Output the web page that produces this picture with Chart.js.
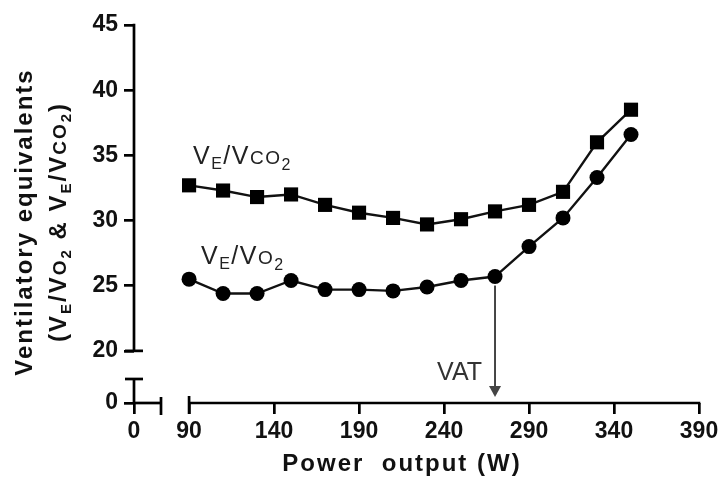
<!DOCTYPE html>
<html>
<head>
<meta charset="UTF-8">
<title>Ventilatory equivalents vs power output</title>
<script src="https://cdn.jsdelivr.net/npm/chart.js@4.4.1/dist/chart.umd.min.js"></script>
<style>
body { margin: 0; background: #fff; }
</style>
</head>
<body>
<canvas id="myChart" width="724" height="478"></canvas>
<script>
// power steps (W)
var power = [90, 110, 130, 150, 170, 190, 210, 230, 250, 270, 290, 310, 330, 350];
// VE/VCO2 (squares)
var veVco2 = [32.7, 32.3, 31.8, 32.0, 31.2, 30.6, 30.2, 29.7, 30.1, 30.7, 31.2, 32.2, 36.0, 38.5];
// VE/VO2 (circles)
var veVo2 = [25.5, 24.4, 24.4, 25.4, 24.7, 24.7, 24.6, 24.9, 25.4, 25.7, 28.0, 30.2, 33.3, 36.6];
var xTicks = [90, 140, 190, 240, 290, 340, 390];
var yTicks = [20, 25, 30, 35, 40, 45];
var vatPower = 270;
// where the "0" sits on each broken axis
var xZeroAt = 57.6;
var yZeroAt = 16;

var FONT = '"Liberation Sans", Arial, sans-serif';

function toPoints(ys) {
    return power.map(function(p, i) { return {x: p, y: ys[i]}; });
}

// draw a run of text pieces: [text, size, weight, dy]
function richText(ctx, parts, x, y, align) {
    var w = 0;
    parts.forEach(function(p) {
        ctx.font = (p[2] || 'normal') + ' ' + p[1] + 'px ' + FONT;
        w += ctx.measureText(p[0]).width;
    });
    var cx = align === 'center' ? x - w / 2 : (align === 'right' ? x - w : x);
    ctx.textAlign = 'left';
    ctx.textBaseline = 'alphabetic';
    parts.forEach(function(p) {
        ctx.font = (p[2] || 'normal') + ' ' + p[1] + 'px ' + FONT;
        ctx.fillText(p[0], cx, y + (p[3] || 0));
        cx += ctx.measureText(p[0]).width;
    });
}

function seg(ctx, x1, y1, x2, y2) {
    ctx.beginPath();
    ctx.moveTo(x1, y1);
    ctx.lineTo(x2, y2);
    ctx.stroke();
}

var brokenAxes = {
    id: 'brokenAxes',
    afterDraw: function(chart) {
        var ctx = chart.ctx, xs = chart.scales.x, ys = chart.scales.y;
        var ax = xs.getPixelForValue(xZeroAt), ay = ys.getPixelForValue(yZeroAt);
        var y20 = ys.getPixelForValue(yTicks[0]), yTop = ys.getPixelForValue(yTicks[yTicks.length - 1]);
        var x90 = xs.getPixelForValue(xTicks[0]), xEnd = xs.getPixelForValue(xTicks[xTicks.length - 1]);
        ctx.save();
        ctx.strokeStyle = '#000';
        ctx.lineWidth = 2.7;
        // y axis, upper part + cap
        seg(ctx, ax, yTop - 1.3, ax, y20);
        seg(ctx, ax - 9, y20, ax + 9, y20);
        // y axis, stub at zero + cap
        seg(ctx, ax, ay - 24, ax, ay);
        seg(ctx, ax - 9, ay - 24, ax + 9, ay - 24);
        // x axis, stub at zero + cap
        seg(ctx, ax, ay, ax + 27, ay);
        seg(ctx, ax + 27, ay - 6, ax + 27, ay + 12);
        // x axis, main part + cap
        seg(ctx, x90, ay, xEnd + 1.3, ay);
        seg(ctx, x90, ay - 7, x90, ay + 11);

        // axis titles
        ctx.fillStyle = '#111';
        ctx.letterSpacing = '2px';
        richText(ctx, [['Power  output (W)', 24, 'bold']], 402, 471, 'center');
        ctx.save();
        ctx.translate(0, 222);
        ctx.rotate(-Math.PI / 2);
        richText(ctx, [['Ventilatory equivalents', 24, 'bold']], 0, 32, 'center');
        richText(ctx, [
            ['(V', 24, 'bold'], ['E', 15, 'bold', 5], ['/V', 24, 'bold'], ['O', 19, 'bold'], ['2', 15, 'bold', 5],
            [' & V', 24, 'bold'], ['E', 15, 'bold', 5], ['/V', 24, 'bold'], ['CO', 19, 'bold'], ['2', 15, 'bold', 5],
            [')', 24, 'bold']
        ], 0, 66, 'center');
        ctx.restore();

        // series labels
        ctx.letterSpacing = '1.5px';
        ctx.fillStyle = '#222';
        richText(ctx, [['V', 25], ['E', 16, 'normal', 5], ['/V', 25], ['CO', 19], ['2', 16, 'normal', 6]],
            xs.getPixelForValue(92.3), ys.getPixelForValue(34.35), 'left');
        richText(ctx, [['V', 25], ['E', 16, 'normal', 5], ['/V', 25], ['O', 19], ['2', 16, 'normal', 6]],
            xs.getPixelForValue(97), ys.getPixelForValue(26.65), 'left');

        // VAT arrow
        var vx = xs.getPixelForValue(vatPower);
        var vy = ys.getPixelForValue(veVo2[power.indexOf(vatPower)]);
        var tip = ay - 6;
        ctx.strokeStyle = '#444';
        ctx.fillStyle = '#444';
        ctx.lineWidth = 2;
        seg(ctx, vx, vy + 9, vx, tip - 8);
        ctx.beginPath();
        ctx.moveTo(vx - 6, tip - 11);
        ctx.lineTo(vx + 6, tip - 11);
        ctx.lineTo(vx, tip);
        ctx.closePath();
        ctx.fill();
        ctx.letterSpacing = '0px';
        ctx.fillStyle = '#333';
        richText(ctx, [['VAT', 25]], vx - 13, ay - 23, 'right');
        ctx.restore();
    }
};

var tickFont = {family: FONT, size: 23, weight: 'bold'};

new Chart(document.getElementById('myChart'), {
    type: 'line',
    data: {
        datasets: [
            {
                label: 'VE/VCO2',
                data: toPoints(veVco2),
                borderColor: '#111',
                backgroundColor: '#000',
                borderWidth: 2.4,
                pointStyle: 'rect',
                pointRadius: 10,
                pointBorderWidth: 0,
                tension: 0
            },
            {
                label: 'VE/VO2',
                data: toPoints(veVo2),
                borderColor: '#111',
                backgroundColor: '#000',
                borderWidth: 2.4,
                pointStyle: 'circle',
                pointRadius: 7.5,
                pointBorderWidth: 0,
                tension: 0
            }
        ]
    },
    options: {
        responsive: false,
        animation: false,
        devicePixelRatio: 1,
        layout: {padding: {top: 25, right: 25, left: 0, bottom: 0}},
        plugins: {legend: {display: false}, tooltip: {enabled: false}},
        scales: {
            x: {
                type: 'linear',
                min: xZeroAt,
                max: 390,
                border: {display: false},
                grid: {drawOnChartArea: false, color: '#000', lineWidth: 2.7, tickLength: 11},
                afterBuildTicks: function(s) {
                    s.ticks = [xZeroAt].concat(xTicks).map(function(v) { return {value: v}; });
                },
                afterFit: function(s) { s.height = 75; },
                ticks: {
                    font: tickFont, color: '#111', padding: 4, maxRotation: 0, autoSkip: false,
                    callback: function(v) { return v === xZeroAt ? '0' : v; }
                }
            },
            y: {
                min: yZeroAt,
                max: 45,
                border: {display: false},
                grid: {drawOnChartArea: false, color: '#000', lineWidth: 2.7, tickLength: 10},
                afterBuildTicks: function(s) {
                    s.ticks = [yZeroAt].concat(yTicks).map(function(v) { return {value: v}; });
                },
                afterFit: function(s) { s.width = 134; },
                ticks: {
                    font: tickFont, color: '#111', padding: 6, autoSkip: false,
                    callback: function(v) { return v === yZeroAt ? '0' : v; }
                }
            }
        }
    },
    plugins: [brokenAxes]
});
</script>
</body>
</html>
